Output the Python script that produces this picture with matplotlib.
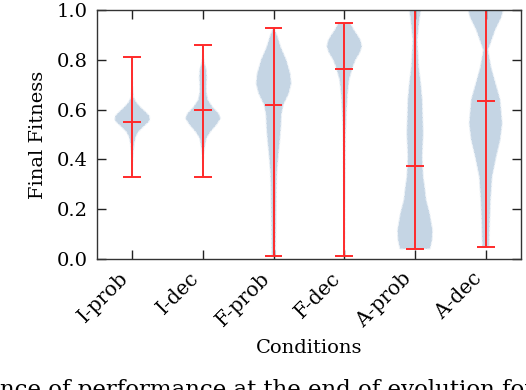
import matplotlib
matplotlib.use('Agg')
import matplotlib.pyplot as plt

plt.rcParams['font.family'] = 'DejaVu Serif'

conditions = ['I-prob', 'I-dec', 'F-prob', 'F-dec', 'A-prob', 'A-dec']

# summary values
means = [0.55, 0.597, 0.62, 0.765, 0.375, 0.635]
mins = [0.33, 0.33, 0.01, 0.01, 0.04, 0.05]
maxs = [0.81, 0.86, 0.93, 0.95, 1.0, 1.0]

# density outline of each violin (fitness value, relative width)
ip_y = [0.33, 0.38, 0.42, 0.46, 0.49, 0.51, 0.53, 0.55, 0.56, 0.575, 0.59, 0.61, 0.63, 0.65, 0.70, 0.75, 0.81]
ip_w = [0.3, 0.8, 2, 4, 7, 12, 22, 33, 36, 35, 28, 17, 8, 3, 1, 0.5, 0.3]

id_y = [0.33, 0.38, 0.42, 0.45, 0.485, 0.51, 0.54, 0.565, 0.585, 0.61, 0.64, 0.67, 0.70, 0.73, 0.76, 0.79, 0.82, 0.86]
id_w = [0.3, 0.8, 2, 4, 7, 15, 28, 36, 32, 20, 10, 7, 7, 8, 7, 3, 1, 0.3]

fp_y = [0.01, 0.05, 0.12, 0.2, 0.28, 0.35, 0.42, 0.48, 0.53, 0.58, 0.62, 0.665, 0.705, 0.745, 0.80, 0.85, 0.90, 0.93]
fp_w = [4, 4.5, 5, 5.5, 6, 7, 10, 13, 15, 16, 20, 31, 36, 34, 26, 15, 7, 1]

fd_y = [0.01, 0.1, 0.2, 0.3, 0.4, 0.5, 0.6, 0.665, 0.72, 0.77, 0.80, 0.83, 0.855, 0.88, 0.90, 0.92, 0.95]
fd_w = [1, 1.5, 1.5, 2, 2.5, 3, 5, 7, 10, 17, 23, 32, 36, 33, 27, 20, 12]

ap_y = [0.04, 0.076, 0.116, 0.184, 0.237, 0.29, 0.33, 0.41, 0.505, 0.64, 0.705, 0.77, 0.88, 0.96, 1.0]
ap_w = [31, 35, 36, 30, 23, 20, 17, 15, 17, 15, 12, 8, 5, 9, 12]

ad_y = [0.05, 0.13, 0.237, 0.33, 0.41, 0.478, 0.545, 0.64, 0.705, 0.77, 0.84, 0.92, 0.97, 1.0]
ad_w = [7, 8, 10, 13, 21, 29, 33, 29, 20, 11, 5, 19, 31, 35]

profiles = [(ip_y, ip_w), (id_y, id_w), (fp_y, fp_w), (fd_y, fd_w), (ap_y, ap_w), (ad_y, ad_w)]

vpstats = []
for (ys, ws), m, lo, hi in zip(profiles, means, mins, maxs):
    vpstats.append({'coords': ys, 'vals': ws, 'mean': m, 'median': m, 'min': lo, 'max': hi})

fig = plt.figure(figsize=(5.26, 3.90), dpi=100)
ax = fig.add_axes([0.1844, 0.336, 0.8061, 0.638])

pos = list(range(1, len(conditions) + 1))
parts = ax.violin(vpstats, positions=pos, widths=0.5, showmeans=True, showextrema=True, showmedians=False)
for b in parts['bodies']:
    b.set_facecolor('#c5d5e4')
    b.set_alpha(1)
    b.set_edgecolor('#eef3f8')
    b.set_linewidth(0.8)
    b.set_linestyle((0, (3, 1)))
for k in ['cmaxes', 'cmins', 'cbars', 'cmeans']:
    parts[k].set_color('#ff2a2a')
    parts[k].set_linewidth(1.4)

ax.set_xlim(0.5, 6.5)
ax.set_ylim(0, 1)
ax.set_xticks(pos)
ax.set_xticklabels(conditions, rotation=45, ha='right', fontsize=14.5)
ax.set_yticks([0, 0.2, 0.4, 0.6, 0.8, 1.0])
ax.set_yticklabels(['0.0', '0.2', '0.4', '0.6', '0.8', '1.0'], fontsize=14)
ax.tick_params(direction='in', length=6.5, width=1, top=True, right=True, color='#222222', pad=7)
for s in ax.spines.values():
    s.set_linewidth(1)
    s.set_color('#333333')
ax.set_xlabel('Conditions', fontsize=14, labelpad=6)
ax.set_ylabel('Final Fitness', fontsize=14, labelpad=7)

# caption of the paper, cut by the bottom edge
fig.text(0.0, 0.028, 'nce of performance at the end of evolution for', fontsize=16.5,
         family='DejaVu Serif', va='top', ha='left')

fig.savefig('out.png', dpi=100)
